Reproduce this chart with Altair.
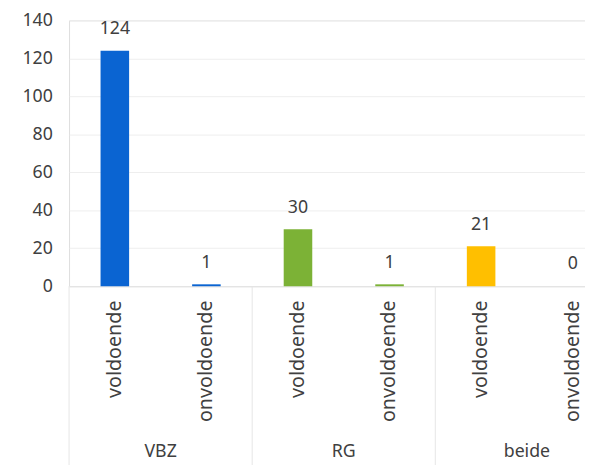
import altair as alt
import pandas as pd

groups = ["VBZ", "VBZ", "RG", "RG", "beide", "beide"]
labels = ["voldoende", "onvoldoende", "voldoende", "onvoldoende", "voldoende", "onvoldoende"]
values = [124, 1, 30, 1, 21, 0]
colors = ["#0a64d2", "#0a64d2", "#7cb236", "#7cb236", "#ffbf00", "#ffbf00"]
group_names = ["VBZ", "RG", "beide"]
y_ticks = [0, 20, 40, 60, 80, 100, 120, 140]

keys = [f"{g}|{l}" for g, l in zip(groups, labels)]
df = pd.DataFrame({"key": keys, "group": groups, "label": labels,
                   "value": values, "color": colors})
gdf = pd.DataFrame({"group": group_names,
                    "key": [f"{g}|voldoende" for g in group_names]})

FONT = "Noto Sans"
TXT = "#404040"
W, H = 524, 270

xscale = alt.Scale(domain=keys, range=[0, 558], paddingInner=0, paddingOuter=0)
yscale = alt.Scale(domain=[0, 140], nice=False)
yaxis = alt.Axis(title=None, values=y_ticks, tickCount=8, ticks=False, domain=False,
                 gridColor="#eeeeee", labelPadding=17, labelOverlap=False,
                 labelFontSize=18, labelColor=TXT, labelFont=FONT)

bars = alt.Chart(df).mark_bar(size=29).encode(
    x=alt.X("key:N", sort=keys, scale=xscale,
            axis=alt.Axis(title=None, labelExpr="split(datum.value,'|')[1]",
                          labelAngle=-90, ticks=False, domain=True,
                          domainColor="#e3e3e3", labelPadding=14,
                          labelFontSize=20, labelColor=TXT, labelFont=FONT,
                          labelFontWeight="normal")),
    y=alt.Y("value:Q", scale=yscale, axis=yaxis),
    color=alt.Color("color:N", scale=None),
)

texts = alt.Chart(df).mark_text(baseline="bottom", dy=-13, fontSize=18,
                                font=FONT, color=TXT).encode(
    x=alt.X("key:N", sort=keys),
    y=alt.Y("value:Q", scale=yscale, axis=yaxis),
    text=alt.Text("value:Q"),
)

seps = alt.Chart(gdf).mark_rule(color="#e6e6e6", strokeWidth=1).encode(
    x=alt.X("key:N", sort=keys, bandPosition=0),
    y=alt.value(H),
    y2=alt.value(H + 185),
)

glabels = alt.Chart(gdf).mark_text(baseline="middle", fontSize=18,
                                   font=FONT, color=TXT).encode(
    x=alt.X("key:N", sort=keys, bandPosition=1),
    y=alt.value(H + 168),
    text="group:N",
)

chart = alt.layer(seps, bars, texts, glabels).properties(
    width=W, height=H,
    autosize=alt.AutoSizeParams(type="none"),
    padding={"left": 62, "top": 9, "right": 0, "bottom": 178},
).configure_view(stroke=None).configure(background="white")

chart.save("out.html", embed_options={"renderer": "svg", "actions": False})
